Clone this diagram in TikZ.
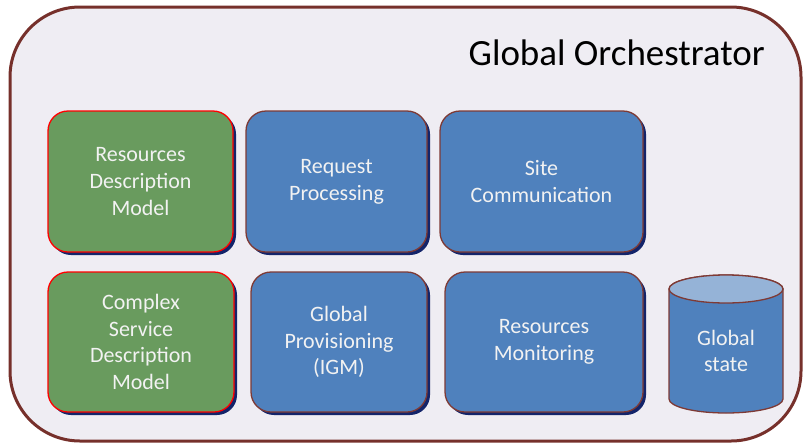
\documentclass[tikz,border=0pt]{standalone}
\usepackage{fontspec}
\setmainfont{Carlito}
\usetikzlibrary{shadows}
\definecolor{outerfill}{HTML}{EFEDF3}
\definecolor{outerline}{HTML}{76302B}
\definecolor{boxblue}{HTML}{4F81BD}
\definecolor{boxgreen}{HTML}{699B5E}
\definecolor{boxline}{HTML}{7E3A35}
\definecolor{shadownavy}{HTML}{13246A}
\definecolor{toplight}{HTML}{95B3D7}
\definecolor{boxtext}{HTML}{F2F2F2}
\begin{document}
\begin{tikzpicture}[x=1pt,y=-1pt,
  module/.style={rectangle, rounded corners=20pt, draw=boxline, line width=1.3pt,
    fill=boxblue, text=boxtext, align=center, inner sep=0pt,
    font=\fontsize{22}{26.8}\selectfont,
    drop shadow={shadow xshift=3pt, shadow yshift=-3pt, fill=shadownavy, opacity=1}},
  greenmodule/.style={module, fill=boxgreen, draw=red},
  title/.style={font=\fontsize{37}{42}\selectfont, text=black, inner sep=0pt}
]
\useasboundingbox (0,0) rectangle (803,445);
% outer container
\draw[outerline, line width=3pt, fill=outerfill, rounded corners=70pt] (10,7) rectangle (801,441);
\node[title, anchor=base east] (ttl) at (765,65) {Global Orchestrator};

% row 1
\node[greenmodule, minimum width=185pt, minimum height=141pt] (rdm) at (140.5,181.5) {Resources\\Description\\Model};
\node[module, minimum width=181pt, minimum height=141pt] (rp) at (336.5,181.5) {Request\\Processing};
\node[module, minimum width=203pt, minimum height=141pt] (sc) at (541.5,181.5) {Site\\Communication};
% row 2
\node[greenmodule, minimum width=186pt, minimum height=140pt] (csdm) at (141,342) {Complex\\Service\\Description\\Model};
\node[module, minimum width=176pt, minimum height=140pt] (gp) at (339,342) {Global\\Provisioning\\(IGM)};
\node[module, minimum width=198pt, minimum height=140pt] (rm) at (544,342) {Resources\\Monitoring};

% cylinder
\draw[boxline, line width=1.3pt, fill=boxblue]
  (669,289) -- (669,399) arc[start angle=180, end angle=360, x radius=57, y radius=-14]
  -- (783,289) arc[start angle=0, end angle=180, x radius=57, y radius=-14] -- cycle;
\draw[boxline, line width=1.3pt, fill=toplight] (726,289) ellipse[x radius=57, y radius=14];
\node[text=boxtext, align=center, font=\fontsize{22}{26.8}\selectfont] (gs) at (726,351) {Global\\state};
\end{tikzpicture}
\end{document}
